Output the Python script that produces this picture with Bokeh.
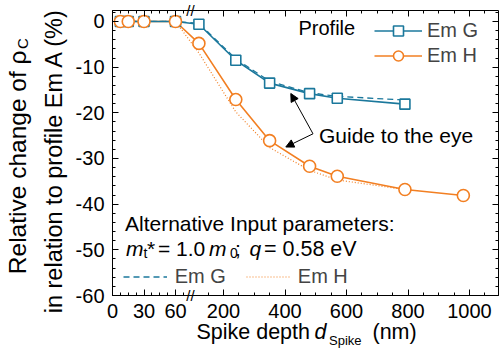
import numpy as np
from bokeh.plotting import figure
from bokeh.models import (Range1d, FixedTicker, SingleIntervalTicker, LinearAxis,
                          CustomJSTickFormatter, Label, Arrow, NormalHead, Legend, LegendItem)
from bokeh.embed import file_html
from bokeh.resources import INLINE

# ---------------- data ----------------
depth_g = [7.5, 15, 30, 60, 120, 240, 350, 480, 570, 790]
em_g = [0, 0, 0, 0, -0.6, -8.5, -13.5, -15.8, -16.8, -18.1]
depth_h = [7.5, 15, 30, 60, 120, 240, 350, 480, 570, 790, 980]
em_h = [0, 0, 0, 0, -4.8, -17.1, -26.1, -31.7, -33.9, -36.8, -38.1]
depth_alt = [7.5, 15, 30, 60, 120, 240, 350, 480, 570, 790]
alt_g = [0, 0, 0, 0, -0.4, -8.2, -13.1, -15.6, -16.4, -17.2]
alt_h = [0, 0, 0, 0, -6.9, -19.8, -27.6, -32.6, -34.7, -36.8]

x_major_left = [0, 30, 60]
x_minor_left = [7.5 * i for i in range(10)]
x_major_right = [200, 400, 600, 800, 1000]
x_minor_right = [150 + 50 * i for i in range(19)]
y_min, y_max = -60, 2.4

# ---------------- broken x axis: piecewise-linear plot coordinate ----------------
FONT = "Liberation Sans"
TEAL = "#1b789c"
ORANGE = "#f27f22"
LEFT_MAX = 75.0
S_LEFT = 1.05        # px per nm on the left segment
S_RIGHT = 0.3075     # px per nm on the right segment
U200 = 111.0 / S_LEFT  # plot coordinate of 200 nm
K = S_RIGHT / S_LEFT


def to_u(x):
    x = np.asarray(x, dtype=float)
    return np.where(x <= LEFT_MAX, x, U200 + (x - 200.0) * K)


W, H = 499, 351
FR_L, FR_T, FR_R, FR_B = 112.0, 10.0, 498.0, 295.0   # data-area box in page pixels
U_MAX = (FR_R - FR_L) / S_LEFT
SY = (FR_B - FR_T) / (y_max - y_min)
PY0 = FR_T + y_max * SY


def at(px, py):
    """page pixel -> plot coordinates (for annotations only)"""
    return (px - FR_L) / S_LEFT, -(py - PY0) / SY


x0, y0 = at(0, H)
x1, y1 = at(W, 0)
p = figure(width=W, height=H, output_backend="svg", toolbar_location=None,
           x_range=Range1d(x0, x1), y_range=Range1d(y0, y1),
           x_axis_location=None, y_axis_location=None,
           min_border=0, min_border_left=0, min_border_right=0,
           min_border_top=0, min_border_bottom=0)
p.grid.visible = False
p.outline_line_color = None
p.background_fill_color = "white"

xt = FixedTicker(ticks=list(to_u(x_major_left + x_major_right)),
                 minor_ticks=list(to_u(x_minor_left + x_minor_right)))
yt = SingleIntervalTicker(interval=10, num_minor_ticks=5)
xfmt = CustomJSTickFormatter(args=dict(u200=float(U200), k=float(K), lmax=LEFT_MAX + 1),
                             code="""
if (tick <= lmax) { return tick.toFixed(0); }
return Math.round(200 + (tick - u200) / k).toString();
""")
yfmt = CustomJSTickFormatter(code="return tick.toFixed(0);")


def make_axis(side, ticker, loc, bounds, fmt=None):
    ax = LinearAxis(ticker=ticker, fixed_location=loc, bounds=bounds)
    ax.axis_line_color = "black"
    ax.axis_line_width = 1
    ax.major_tick_line_color = "black"
    ax.minor_tick_line_color = "black"
    ax.major_tick_in = 6
    ax.major_tick_out = 0
    ax.minor_tick_in = 3
    ax.minor_tick_out = 0
    if fmt is not None:
        ax.formatter = fmt
        ax.major_label_text_font = FONT
        ax.major_label_text_font_size = "20px"
        ax.major_label_text_color = "black"
    else:
        ax.major_label_text_color = None
    p.add_layout(ax, side)
    return ax


xb = make_axis("below", xt, y_min, (0, U_MAX), xfmt)
xb.major_label_standoff = 8
yl = make_axis("left", yt, 0, (y_min, y_max), yfmt)
yl.major_label_standoff = 8
make_axis("above", xt, y_max, (0, U_MAX))
make_axis("right", yt, U_MAX, (y_min, y_max))

# ---------------- data glyphs ----------------
lh = p.line(to_u(depth_h), em_h, line_color=ORANGE, line_width=1.6)
ah = p.line(to_u(depth_alt), alt_h, line_color=ORANGE, line_width=1.2, line_dash="1 2")
lg = p.line(to_u(depth_g), em_g, line_color=TEAL, line_width=1.6)
ag = p.line(to_u(depth_alt), alt_g, line_color=TEAL, line_width=1.3, line_dash="6 4")
sg = p.scatter(to_u(depth_g), em_g, marker="square", size=10, line_color=TEAL,
               line_width=1.6, fill_color="white")
ch = p.scatter(to_u(depth_h), em_h, marker="circle", size=12, line_color=ORANGE,
               line_width=1.6, fill_color="white")

# ---------------- legends ----------------
leg = Legend(items=[LegendItem(label="Em G", renderers=[lg, sg]),
                    LegendItem(label="Em H", renderers=[lh, ch])],
             location=(374, H - 68), orientation="vertical", padding=0, margin=0, spacing=0,
             glyph_width=48, glyph_height=25, label_height=25, label_standoff=5,
             label_text_font=FONT, label_text_font_size="20px",
             background_fill_alpha=0, border_line_alpha=0)
p.add_layout(leg, "center")
leg2 = Legend(items=[LegendItem(label="Em G", renderers=[ag]),
                     LegendItem(label="Em H", renderers=[ah])],
              location=(122.7, H - 288.5), orientation="horizontal", padding=0, margin=0,
              spacing=20, glyph_width=44, glyph_height=25, label_height=25, label_standoff=8,
              label_text_font=FONT, label_text_font_size="20px",
              background_fill_alpha=0, border_line_alpha=0)
p.add_layout(leg2, "center")

SHIFT = 7.5   # measured offset of the rendered alphabetic baseline


def lab(text, px, py, size="20px", align="left", style="normal"):
    x, y = at(px, py - SHIFT)
    p.add_layout(Label(x=x, y=y, text=text, text_font=FONT, text_font_size=size,
                       text_align=align, text_baseline="alphabetic", text_font_style=style,
                       text_color="black"))


def vlab(text, px, py, size, align="left", style="normal"):
    x, y = at(px - SHIFT - 1, py)
    p.add_layout(Label(x=x, y=y, text=text, text_font=FONT, text_font_size=size,
                       text_align=align, text_baseline="alphabetic", text_font_style=style,
                       text_color="black", angle=np.pi / 2))


def mark(text, px, py):
    x, y = at(px, py)
    p.add_layout(Label(x=x, y=y, text=text, text_font=FONT, text_font_size="15px",
                       text_align="center", text_baseline="middle", text_color="black"))


# texts inside the data area
lab("Profile", 298, 35, "20px")
lab("Guide to the eye", 318.5, 142, "21px")
lab("Alternative Input parameters:", 124.5, 230, "21px")
lab("m", 125.5, 255.5, "21px", style="italic")
lab("t", 143, 259.5, "14px")
lab("*", 146.5, 255.5, "21px")
lab("= 1.0", 157.5, 255.5, "21px")
lab("m", 208.5, 255.5, "21px", style="italic")
lab("0", 229.5, 259.5, "14px")
lab(";", 234.5, 255.5, "21px")
lab("q", 249, 255.5, "21px", style="italic")
lab("= 0.58 eV", 263.5, 255.5, "21.5px")

# axis break marks
mark("//", 190, 10)
mark("//", 190, 295)

# axis titles
lab("Spike depth", 309.5, 338.5, "21.5px", align="right")
lab("d", 314, 338.5, "21.5px", style="italic")
lab("Spike", 328.5, 347.5, "13px")
lab("(nm)", 372, 338.5, "21.5px")
vlab("in relation to profile Em A (%)", 62, 160, "23.5px", align="center")
vlab("Relative change of ρ", 25.5, 50, "24.5px", align="right")
vlab("C", 30.5, 48.5, "15px")

# guide-to-the-eye arrows
vx, vy = at(312.5, 133.3)
for tx, ty in [at(290.3, 93.0), at(285.3, 146.5)]:
    p.add_layout(Arrow(x_start=vx, y_start=vy, x_end=tx, y_end=ty, line_width=1,
                       line_color="black",
                       end=NormalHead(size=8, fill_color="black", line_color="black")))

open("out.html", "w").write(file_html(p, INLINE))
